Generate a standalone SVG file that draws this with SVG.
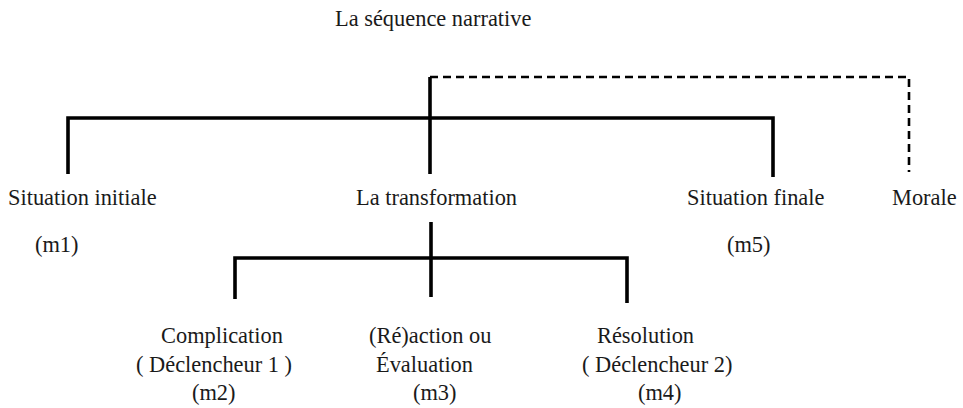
<svg xmlns="http://www.w3.org/2000/svg" width="963" height="408" viewBox="0 0 963 408">
<style>
text { font-family: "Liberation Serif", "Times New Roman", serif; font-size: 22.4px; fill: #1a1a1a; }
.solid { fill: none; stroke: #000; stroke-width: 3.6; stroke-linejoin: miter; stroke-linecap: butt; }
.dash { fill: none; stroke: #000; stroke-width: 2.6; stroke-dasharray: 8 5; }
</style>
<rect width="963" height="408" fill="#fff"/>
<g id="connectors">
  <path class="solid" d="M68 174 V118 H773 V177"/>
  <path class="solid" d="M430 174 V77"/>
  <path class="dash" d="M430 77 H909 V172"/>
  <path class="solid" d="M431 222 V297"/>
  <path class="solid" d="M235 299 V258 H627 V303"/>
</g>
<g id="title"><text x="335" y="26">La séquence narrative</text></g>
<g id="situation-initiale">
  <text x="8" y="205">Situation initiale</text>
  <text x="35" y="252">(m1)</text>
</g>
<g id="transformation"><text x="356" y="205">La transformation</text></g>
<g id="situation-finale">
  <text x="687" y="205">Situation finale</text>
  <text x="727" y="252">(m5)</text>
</g>
<g id="morale"><text x="892" y="205">Morale</text></g>
<g id="complication">
  <text x="161" y="343">Complication</text>
  <text x="136" y="372">( Déclencheur 1 )</text>
  <text x="192" y="400">(m2)</text>
</g>
<g id="reaction">
  <text x="369" y="343">(Ré)action ou</text>
  <text x="376" y="372">Évaluation</text>
  <text x="413" y="400">(m3)</text>
</g>
<g id="resolution">
  <text x="597" y="343">Résolution</text>
  <text x="582" y="372">( Déclencheur 2)</text>
  <text x="638" y="400">(m4)</text>
</g>
</svg>
